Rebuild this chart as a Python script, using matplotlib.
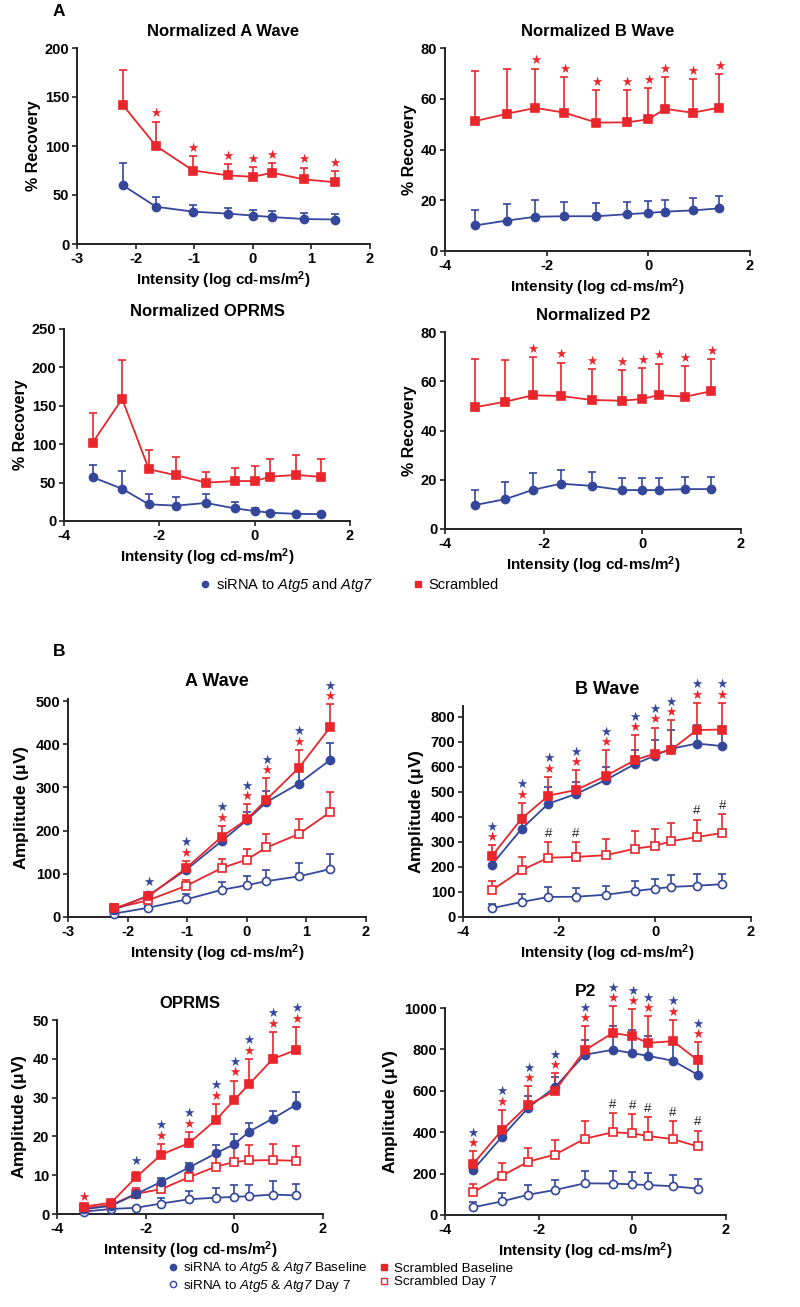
import matplotlib
matplotlib.use("Agg")
import matplotlib.pyplot as plt
import numpy as np
from matplotlib.lines import Line2D

plt.rcParams['font.family'] = ['Liberation Sans', 'DejaVu Sans']
plt.rcParams['font.weight'] = 'normal'
plt.rcParams['mathtext.fontset'] = 'custom'
plt.rcParams['mathtext.rm'] = 'Liberation Sans:weight=normal'
plt.rcParams['mathtext.it'] = 'Liberation Sans:italic:weight=normal'
plt.rcParams['mathtext.sf'] = 'Liberation Sans:italic:weight=normal'
plt.rcParams['mathtext.bf'] = 'Liberation Sans:bold'
plt.rcParams['axes.unicode_minus'] = False

BLUE = '#34479b'
RED = '#e8262c'

# ---------------- data ----------------
x8 = [-2.22, -1.65, -1.02, -0.42, 0.0, 0.33, 0.87, 1.40]
x10 = [-3.40, -2.78, -2.22, -1.65, -1.02, -0.42, 0.0, 0.33, 0.87, 1.40]

# Panel A: normalized % recovery (mean, upper SEM)
na_wave_si = [60, 38, 33, 31, 29, 27.5, 25.5, 25]
na_wave_si_err = [22.5, 10, 7, 6, 6, 6, 6.5, 6]
na_wave_sc = [142, 100, 75, 70, 68.6, 72.7, 66, 63]
na_wave_sc_err = [36, 25, 15, 11.5, 10, 10, 12, 11]
na_wave_star = ['', 'r', 'r', 'r', 'r', 'r', 'r', 'r']

nb_wave_si = [10.1, 12, 13.5, 13.7, 13.7, 14.5, 15, 15.5, 16, 16.8]
nb_wave_si_err = [5.9, 6.7, 6.7, 5.7, 5.2, 4.9, 4.6, 4.7, 5, 4.7]
nb_wave_sc = [51.2, 54.1, 56.4, 54.5, 50.6, 50.7, 51.9, 56, 54.5, 56.5]
nb_wave_sc_err = [19.6, 17.5, 15.5, 14, 13, 12.6, 12.5, 12.5, 13.4, 13.4]
nb_wave_star = ['', '', 'r', 'r', 'r', 'r', 'r', 'r', 'r', 'r']

n_oprms_si = [57, 42, 21.7, 20, 23.5, 16.5, 13, 10.8, 9.3, 8.9]
n_oprms_si_err = [15.6, 23, 13.5, 11, 11.5, 8.2, 3.5, 2.7, 1.0, 1.0]
n_oprms_sc = [102, 159, 67.4, 59.6, 50, 52, 52, 57.7, 60, 57.4]
n_oprms_sc_err = [38, 50, 25.6, 24, 13.5, 16.6, 20, 22.6, 26, 23.6]

n_p2_si = [9.7, 12.1, 15.9, 18.4, 17.5, 15.8, 15.8, 15.8, 16.2, 16.2]
n_p2_si_err = [6.1, 6.9, 6.9, 5.5, 5.6, 5.0, 4.8, 5.0, 5.0, 5.0]
n_p2_sc = [49.4, 51.7, 54.3, 54, 52.4, 52.1, 52.8, 54.4, 53.7, 56]
n_p2_sc_err = [19.7, 17.0, 15.5, 13.6, 12.4, 12.4, 12.4, 12.8, 12.6, 13.2]
n_p2_star = ['', '', 'r', 'r', 'r', 'r', 'r', 'r', 'r', 'r']

# Panel B: amplitudes (uV)
aw_si_base = [17, 50, 109, 176, 224, 266, 309, 364]
aw_si_base_err = [5, 5, 10, 15, 20, 25, 35, 38]
aw_sc_base = [20, 48, 113, 186, 226, 272, 345, 440]
aw_sc_base_err = [5, 8, 17, 25, 35, 50, 42, 53]
aw_si_d7 = [8, 21.5, 40.6, 63, 73.6, 83, 94, 111]
aw_si_d7_err = [2, 5, 13, 17, 22, 27, 30, 35]
aw_sc_d7 = [20, 39, 72, 113.5, 133, 161, 192, 243]
aw_sc_d7_err = [4, 6, 14, 20, 24, 31, 36, 47]
aw_star = ['', 'b', 'rb', 'rb', 'rb', 'rb', 'rb', 'rb']
aw_hash = [False] * 8

bw_si_base = [209, 352, 453, 491, 548, 611, 645, 672, 693, 683]
bw_si_base_err = [30, 55, 67, 49, 52, 58, 62, 75, 74, 75]
bw_sc_base = [243, 393, 485, 507, 564, 627, 653, 667, 747, 749]
bw_sc_base_err = [44, 64, 75, 80, 103, 100, 104, 120, 109, 107]
bw_si_d7 = [35, 60, 80, 81, 89, 104, 113, 120, 125, 131]
bw_si_d7_err = [18, 33, 40, 36, 34, 40, 40, 47, 46, 42]
bw_sc_d7 = [107, 187, 237, 240, 247, 273, 284, 303, 319, 336]
bw_sc_d7_err = [37, 53, 63, 60, 64, 70, 69, 73, 70, 75]
bw_star = ['rb'] * 10
bw_hash = [False, False, True, True, False, False, False, False, True, True]

op_si_base = [1.2, 2.1, 5.1, 8.3, 12, 15.6, 18, 21.2, 24.6, 28.2]
op_si_base_err = [0.3, 0.5, 1.0, 0.9, 1.1, 2.2, 2.6, 2.3, 2.0, 3.3]
op_sc_base = [1.9, 2.9, 9.45, 15.3, 18.3, 24.2, 29.4, 33.4, 40, 42.3]
op_sc_base_err = [0.5, 0.5, 1.5, 2.8, 2.9, 4.2, 5.0, 6.6, 7.0, 6.0]
op_si_d7 = [0.6, 1.3, 1.6, 2.7, 3.8, 4.2, 4.4, 4.6, 5.0, 4.8]
op_si_d7_err = [0.2, 0.2, 0.3, 1.5, 2.1, 2.6, 3.0, 3.0, 3.6, 2.9]
op_sc_d7 = [1.5, 2.3, 5.2, 6.4, 9.5, 12.2, 13.4, 13.8, 13.9, 13.7]
op_sc_d7_err = [0.4, 0.6, 1.4, 1.1, 1.4, 3.4, 4.0, 4.0, 4.1, 3.9]
op_star = ['r', '', 'b', 'rb', 'rb', 'rb', 'rb', 'rb', 'rb', 'rb']
op_hash = [False] * 10

p2_si_base = [218, 379, 519, 618, 774, 798, 782, 769, 745, 677]
p2_si_base_err = [32, 48, 54, 51, 73, 113, 113, 94, 86, 89]
p2_sc_base = [247, 411, 532, 600, 795, 879, 865, 831, 840, 747]
p2_sc_base_err = [60, 97, 89, 85, 116, 129, 130, 129, 104, 87]
p2_si_d7 = [37, 66, 98, 121, 153, 152, 148, 145, 139, 127]
p2_si_d7_err = [24, 39, 47, 48, 58, 61, 58, 57, 53, 46]
p2_sc_d7 = [110, 190, 258, 292, 368, 400, 394, 382, 366, 331]
p2_sc_d7_err = [38, 60, 65, 71, 84, 92, 93, 91, 86, 77]
p2_star = ['rb'] * 10
p2_hash = [False, False, False, False, False, True, True, True, True, True]

# ---------------- layout ----------------
W, H = 800, 1307
fig = plt.figure(figsize=(W / 100, H / 100), dpi=100)


def make_ax(L, R, T, B):
    ax = fig.add_axes([L / W, 1 - B / H, (R - L) / W, (B - T) / H])
    for s in ['top', 'right']:
        ax.spines[s].set_visible(False)
    for s in ['left', 'bottom']:
        ax.spines[s].set_linewidth(1.4)
        ax.spines[s].set_color('#222222')
    ax.tick_params(direction='out', length=3.5, width=1.2, color='#222222',
                   labelsize=10.5, pad=2)
    return ax


def series(ax, x, y, err, color, marker, filled, ms=5.8):
    y = np.asarray(y, float)
    err = np.asarray(err, float)
    ax.errorbar(x, y, yerr=[np.zeros_like(err), err], color=color, lw=1.3,
                elinewidth=1.2, capsize=2.8, capthick=1.2, marker=marker,
                markersize=ms, markerfacecolor=color if filled else 'white',
                markeredgecolor=color, markeredgewidth=1.2, clip_on=False,
                zorder=3)


def star_marks(ax, x, top, codes, off0=5.5, step=7.5, size=9):
    for xi, t, c in zip(x, top, codes):
        for k, ch in enumerate(c):
            col = RED if ch == 'r' else BLUE
            off = off0 + k * step
            if len(c) == 1 and ch == 'b':
                off = off0 + 2.0
            ax.annotate('\u2605', xy=(xi, t), xytext=(0, off),
                        textcoords='offset points', ha='center', va='center',
                        fontsize=size, color=col, family='DejaVu Sans',
                        annotation_clip=False, zorder=5)


def hash_marks(ax, x, top, flags, off=6.0):
    for xi, t, f in zip(x, top, flags):
        if f:
            ax.annotate('#', xy=(xi, t), xytext=(0, off),
                        textcoords='offset points', ha='center', va='center',
                        fontsize=9.5, color='#222222',
                        annotation_clip=False, zorder=5)


XLAB = r'Intensity (log cd-ms/m$^{\mathbf{2}}$)'


def finish(ax, title, xlim, xticks, ylim, yticks, ylabel, tsize, lsize):
    ax.set_xlim(*xlim)
    ax.set_ylim(*ylim)
    ax.set_xticks(xticks)
    ax.set_yticks(yticks)
    ax.set_xticklabels([str(v) for v in xticks], fontweight='bold')
    ax.set_yticklabels([str(v) for v in yticks], fontweight='bold')
    ax.set_title(title, fontsize=tsize, fontweight='bold', pad=9)
    ax.set_xlabel(XLAB, fontsize=11, fontweight='bold', labelpad=3)
    ax.set_ylabel(ylabel, fontsize=lsize, fontweight='bold', labelpad=3)


def top_of(y, e):
    return list(np.asarray(y, float) + np.asarray(e, float))


# ---- Panel A ----
ax = make_ax(77, 370, 48, 244)
series(ax, x8, na_wave_si, na_wave_si_err, BLUE, 'o', True)
series(ax, x8, na_wave_sc, na_wave_sc_err, RED, 's', True)
star_marks(ax, x8, top_of(na_wave_sc, na_wave_sc_err), na_wave_star)
finish(ax, 'Normalized A Wave', (-3, 2), [-3, -2, -1, 0, 1, 2], (0, 200),
       [0, 50, 100, 150, 200], '% Recovery', 12, 11.5)

ax = make_ax(445, 750, 48, 251)
series(ax, x10, nb_wave_si, nb_wave_si_err, BLUE, 'o', True)
series(ax, x10, nb_wave_sc, nb_wave_sc_err, RED, 's', True)
star_marks(ax, x10, top_of(nb_wave_sc, nb_wave_sc_err), nb_wave_star)
finish(ax, 'Normalized B Wave', (-4, 2), [-4, -2, 0, 2], (0, 80),
       [0, 20, 40, 60, 80], '% Recovery', 12, 11.5)

ax = make_ax(64, 350, 329, 521)
series(ax, x10, n_oprms_si, n_oprms_si_err, BLUE, 'o', True)
series(ax, x10, n_oprms_sc, n_oprms_sc_err, RED, 's', True)
finish(ax, 'Normalized OPRMS', (-4, 2), [-4, -2, 0, 2], (0, 250),
       [0, 50, 100, 150, 200, 250], '% Recovery', 12, 11.5)

ax = make_ax(445, 741, 332, 529)
series(ax, x10, n_p2_si, n_p2_si_err, BLUE, 'o', True)
series(ax, x10, n_p2_sc, n_p2_sc_err, RED, 's', True)
star_marks(ax, x10, top_of(n_p2_sc, n_p2_sc_err), n_p2_star)
finish(ax, 'Normalized P2', (-4, 2), [-4, -2, 0, 2], (0, 80),
       [0, 20, 40, 60, 80], '% Recovery', 12, 11.5)

# legend A
hA1 = Line2D([], [], color=BLUE, marker='o', linestyle='none', markersize=4.5)
hA2 = Line2D([], [], color=RED, marker='s', linestyle='none', markersize=4.5)
fig.legend([hA1], [r'siRNA to $\mathsf{Atg5}$ and $\mathsf{Atg7}$'],
           loc='center left', bbox_to_anchor=(199 / W, 1 - 585 / H),
           frameon=False, handlelength=0.8, handletextpad=0.35, borderpad=0,
           borderaxespad=0, prop={'size': 10.5})
fig.legend([hA2], ['Scrambled'],
           loc='center left', bbox_to_anchor=(412 / W, 1 - 585 / H),
           frameon=False, handlelength=0.8, handletextpad=0.35, borderpad=0,
           borderaxespad=0, prop={'size': 10.5})

fig.text(53 / W, 1 - 12 / H, 'A', fontsize=12.5, fontweight='bold', va='center')
fig.text(53 / W, 1 - 652 / H, 'B', fontsize=12.5, fontweight='bold', va='center')


# ---- Panel B ----
def amp_panel(box, x, sib, sibe, scb, scbe, sid, side, scd, scde, stars, hashes,
              title, xlim, xticks, ylim, yticks, tsize):
    ax = make_ax(*box)
    series(ax, x, sid, side, BLUE, 'o', False)
    series(ax, x, scd, scde, RED, 's', False)
    series(ax, x, sib, sibe, BLUE, 'o', True)
    series(ax, x, scb, scbe, RED, 's', True)
    star_marks(ax, x, top_of(scb, scbe), stars)
    hash_marks(ax, x, top_of(scd, scde), hashes)
    finish(ax, title, xlim, xticks, ylim, yticks, r'Amplitude ($\mathbf{\mu}$V)',
           tsize, 12.5)
    return ax


amp_panel((68, 366, 699, 917), x8, aw_si_base, aw_si_base_err, aw_sc_base,
          aw_sc_base_err, aw_si_d7, aw_si_d7_err, aw_sc_d7, aw_sc_d7_err,
          aw_star, aw_hash, 'A Wave', (-3, 2), [-3, -2, -1, 0, 1, 2], (0, 505),
          [0, 100, 200, 300, 400, 500], 13)

amp_panel((463, 751, 706, 917), x10, bw_si_base, bw_si_base_err, bw_sc_base,
          bw_sc_base_err, bw_si_d7, bw_si_d7_err, bw_sc_d7, bw_sc_d7_err,
          bw_star, bw_hash, 'B Wave', (-4, 2), [-4, -2, 0, 2], (0, 843),
          [0, 100, 200, 300, 400, 500, 600, 700, 800], 13)

amp_panel((57, 323, 1020, 1214), x10, op_si_base, op_si_base_err, op_sc_base,
          op_sc_base_err, op_si_d7, op_si_d7_err, op_sc_d7, op_sc_d7_err,
          op_star, op_hash, 'OPRMS', (-4, 2), [-4, -2, 0, 2], (0, 50),
          [0, 10, 20, 30, 40, 50], 12)

amp_panel((445, 726, 1008, 1215), x10, p2_si_base, p2_si_base_err, p2_sc_base,
          p2_sc_base_err, p2_si_d7, p2_si_d7_err, p2_sc_d7, p2_sc_d7_err,
          p2_star, p2_hash, 'P2', (-4, 2), [-4, -2, 0, 2], (0, 1000),
          [0, 200, 400, 600, 800, 1000], 12.5)

# legend B
hB1 = Line2D([], [], color=BLUE, marker='o', linestyle='none', markersize=4.5)
hB2 = Line2D([], [], color=BLUE, marker='o', linestyle='none', markersize=4.5,
             markerfacecolor='white')
hB3 = Line2D([], [], color=RED, marker='s', linestyle='none', markersize=4.5)
hB4 = Line2D([], [], color=RED, marker='s', linestyle='none', markersize=4.5,
             markerfacecolor='white')
fig.legend([hB1, hB2],
           [r'siRNA to $\mathsf{Atg5}$ & $\mathsf{Atg7}$ Baseline',
            r'siRNA to $\mathsf{Atg5}$ & $\mathsf{Atg7}$ Day 7'],
           loc='center left', bbox_to_anchor=(168 / W, 1 - 1277 / H),
           frameon=False, handlelength=0.8, handletextpad=0.3, borderpad=0,
           borderaxespad=0, labelspacing=0.08, prop={'size': 9.6})
fig.legend([hB3, hB4], [r'Scrambled Baseline', r'Scrambled Day 7'],
           loc='center left', bbox_to_anchor=(379 / W, 1 - 1275.5 / H),
           frameon=False, handlelength=0.8, handletextpad=0.3, borderpad=0,
           borderaxespad=0, labelspacing=0.08, prop={'size': 9.6})

fig.savefig('out.png', dpi=100)
